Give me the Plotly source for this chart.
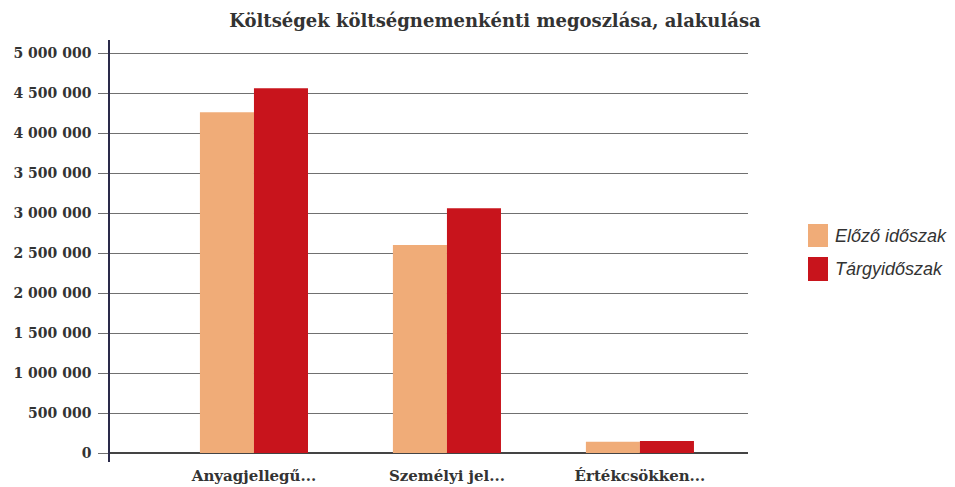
import plotly.graph_objects as go

categories = ["Anyagjellegű...", "Személyi jel...", "Értékcsökken..."]
series_names = ["Előző időszak", "Tárgyidőszak"]
elozo = [4260000, 2600000, 140000]
targy = [4560000, 3060000, 150000]
colors = ["#F0AC78", "#C8141C"]
y_ticks = [0, 500000, 1000000, 1500000, 2000000, 2500000, 3000000, 3500000, 4000000, 4500000, 5000000]

W, H = 955, 487
L, R, T, B = 110, 955 - 748, 40, 487 - 462

fig = go.Figure()
for name, vals, col in zip(series_names, [elozo, targy], colors):
    fig.add_trace(go.Bar(x=categories, y=vals, name=name, marker=dict(color=col, line=dict(width=0)),
                         showlegend=False))

serif = "DejaVu Serif, serif"
fig.update_layout(
    width=W, height=H,
    margin=dict(l=L, r=R, t=T, b=B, autoexpand=False),
    paper_bgcolor="white", plot_bgcolor="white",
    barmode="group", bargap=0.44, bargroupgap=0,
    separators=", ",
    title=dict(text="Költségek költségnemenkénti megoszlása, alakulása",
               x=495 / W, xanchor="center", y=1 - 21 / H, yanchor="middle",
               font=dict(family=serif, size=18, color="#333333", weight="bold")),
    xaxis=dict(range=[-0.746, 2.56], showline=False, showgrid=False, zeroline=False,
               automargin=False, ticks="", ticklabelstandoff=3,
               tickfont=dict(family=serif, size=15, color="#333333", weight="bold")),
    yaxis=dict(range=[-112500, 5162500], tickvals=y_ticks, tickformat=",d",
               automargin=False,
               showgrid=True, gridcolor="#707070", gridwidth=1,
               zeroline=True, zerolinecolor="#444444", zerolinewidth=1.5,
               showline=True, linecolor="#2a2a4a", linewidth=1.5,
               ticks="outside", ticklen=10, tickcolor="#707070", tickwidth=1,
               ticklabelstandoff=4,
               tickfont=dict(family=serif, size=14, color="#333333", weight="bold")),
)

# legend drawn in paper coordinates
def px_x(x):
    return (x - L) / (W - L - R)

def px_y(y):
    return (H - B - y) / (H - T - B)

swatches = [(224, 247), (257, 281)]
for name, col, (y0, y1) in zip(series_names, colors, swatches):
    fig.add_shape(type="rect", xref="paper", yref="paper",
                  x0=px_x(808), x1=px_x(828), y0=px_y(y1), y1=px_y(y0),
                  fillcolor=col, line=dict(width=0))
    fig.add_annotation(xref="paper", yref="paper", x=px_x(833), y=px_y((y0 + y1) / 2),
                       xanchor="left", yanchor="middle", showarrow=False, text=name,
                       font=dict(family="Liberation Sans, Arial, sans-serif", size=18,
                                 color="#333333", style="italic"))

fig.write_html("out.html", config={"displayModeBar": False},
               post_script="document.body.style.margin='0';")
